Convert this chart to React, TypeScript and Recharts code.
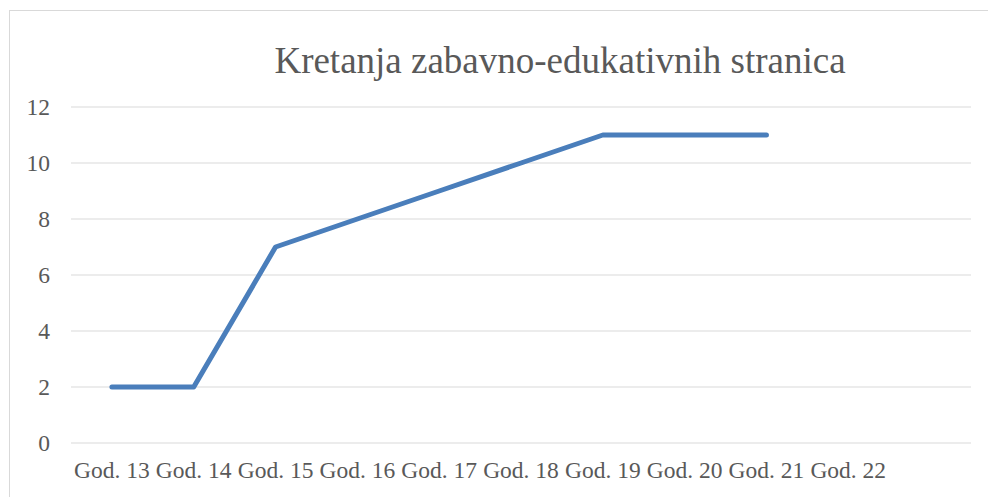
import { LineChart, Line, XAxis, YAxis, CartesianGrid } from "recharts";

const years = [
  "God. 13", "God. 14", "God. 15", "God. 16", "God. 17", "God. 18",
  "God. 19", "God. 20", "God. 21", "God. 22", "",
];
const pages = [2, 2, 7, 8, 9, 10, 11, 11, 11, null, null];
const yTicks = [0, 2, 4, 6, 8, 10, 12];

const data = years.map((year, i) => ({ year, pages: pages[i] }));

const FONT = '"Liberation Serif", "Times New Roman", serif';
const TEXT = "#595959";

export default function App() {
  return (
    <div style={{ position: "absolute", left: 0, top: 0, width: 988, height: 497, overflow: "hidden", background: "#fff" }}>
      {/* chart frame, runs off the right and bottom edge */}
      <div
        style={{
          position: "absolute",
          left: 9,
          top: 10,
          width: 1100,
          height: 600,
          border: "1px solid #d9d9d9",
        }}
      />
      <div
        style={{
          position: "absolute",
          left: 0,
          top: 42,
          width: 1120,
          textAlign: "center",
          fontFamily: FONT,
          fontSize: 37,
          color: TEXT,
          lineHeight: "38px",
        }}
      >
        Kretanja zabavno-edukativnih stranica
      </div>
      <div style={{ position: "absolute", left: 0, top: 0 }}>
        <LineChart
          width={988}
          height={497}
          data={data}
          margin={{ top: 107, right: 17, bottom: 24, left: 21 }}
        >
          <CartesianGrid horizontal vertical={false} stroke="#d9d9d9" strokeWidth={1} />
          <XAxis
            dataKey="year"
            scale="band"
            axisLine={false}
            tickLine={false}
            tickSize={0}
            tickMargin={18}
            interval={0}
            tick={{ fill: TEXT, fontFamily: FONT, fontSize: 23.5 }}
          />
          <YAxis
            width={50}
            domain={[0, 12]}
            ticks={yTicks}
            axisLine={false}
            tickLine={false}
            tickSize={0}
            tickMargin={21}
            tick={{ fill: TEXT, fontFamily: FONT, fontSize: 23.5 }}
          />
          <Line
            dataKey="pages"
            type="linear"
            stroke="#4a7ebb"
            strokeWidth={5}
            strokeLinecap="round"
            strokeLinejoin="round"
            dot={false}
            activeDot={false}
            isAnimationActive={false}
          />
        </LineChart>
      </div>
    </div>
  );
}
